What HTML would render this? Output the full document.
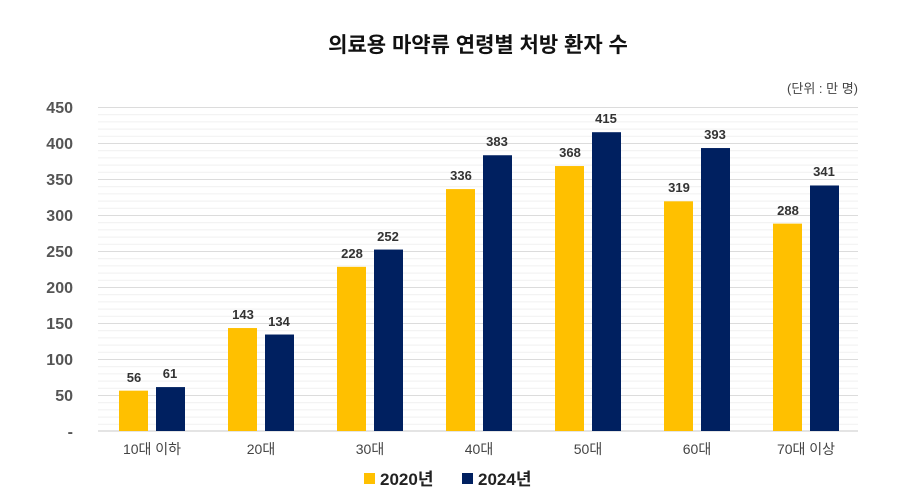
<!DOCTYPE html>
<html><head><meta charset="utf-8"><style>
body{margin:0;background:#fff;}
svg{display:block;font-family:"Liberation Sans","Noto Sans CJK KR",sans-serif;}
</style></head><body>
<svg width="900" height="502" xmlns="http://www.w3.org/2000/svg">
<defs>
<pattern id="mg" x="98" y="107" width="760" height="7.2" patternUnits="userSpaceOnUse">
<line x1="0" x2="760" y1="0.5" y2="0.5" stroke="#f0f0f0" stroke-width="1"/>
</pattern>
</defs>
<text x="478" y="52" text-anchor="middle" font-size="21" font-weight="bold" fill="#111">의료용 마약류 연령별 처방 환자 수</text>
<text x="858" y="93" text-anchor="end" font-size="13" fill="#444">(단위 : 만 명)</text>
<rect x="98" y="107" width="760" height="324" fill="url(#mg)"/>
<g stroke="#dcdcdc" stroke-width="1">
<line x1="98" x2="858" y1="107.5" y2="107.5"/><line x1="98" x2="858" y1="143.5" y2="143.5"/>
<line x1="98" x2="858" y1="179.5" y2="179.5"/><line x1="98" x2="858" y1="215.5" y2="215.5"/>
<line x1="98" x2="858" y1="251.5" y2="251.5"/><line x1="98" x2="858" y1="287.5" y2="287.5"/>
<line x1="98" x2="858" y1="323.5" y2="323.5"/><line x1="98" x2="858" y1="359.5" y2="359.5"/>
<line x1="98" x2="858" y1="395.5" y2="395.5"/><line x1="98" x2="858" y1="431" y2="431" stroke="#c8c8c8"/>
</g>
<g font-size="16" font-weight="bold" fill="#555" text-anchor="end">
<text x="73" y="113">450</text><text x="73" y="149">400</text><text x="73" y="185">350</text>
<text x="73" y="221">300</text><text x="73" y="257">250</text><text x="73" y="293">200</text>
<text x="73" y="329">150</text><text x="73" y="365">100</text><text x="73" y="401">50</text>
<text x="73" y="437">-</text>
</g>
<g fill="#FFC000">
<rect x="119" y="390.68" width="29" height="40.32"/>
<rect x="228" y="328.04" width="29" height="102.96"/>
<rect x="337" y="266.84" width="29" height="164.16"/>
<rect x="446" y="189.08" width="29" height="241.92"/>
<rect x="555" y="166.04" width="29" height="264.96"/>
<rect x="664" y="201.32" width="29" height="229.68"/>
<rect x="773" y="223.64" width="29" height="207.36"/>
</g>
<g fill="#002060">
<rect x="156" y="387.08" width="29" height="43.92"/>
<rect x="265" y="334.52" width="29" height="96.48"/>
<rect x="374" y="249.56" width="29" height="181.44"/>
<rect x="483" y="155.24" width="29" height="275.76"/>
<rect x="592" y="132.2" width="29" height="298.8"/>
<rect x="701" y="148.04" width="29" height="282.96"/>
<rect x="810" y="185.48" width="29" height="245.52"/>
</g>
<g font-size="13" font-weight="bold" fill="#333" text-anchor="middle">
<text x="134" y="382">56</text><text x="243" y="319">143</text><text x="352" y="258">228</text>
<text x="461" y="180">336</text><text x="570" y="157">368</text><text x="679" y="192">319</text><text x="788" y="215">288</text>
<text x="170" y="378">61</text><text x="279" y="326">134</text><text x="388" y="241">252</text>
<text x="497" y="146">383</text><text x="606" y="123">415</text><text x="715" y="139">393</text><text x="824" y="176">341</text>
</g>
<g font-size="14" fill="#444" text-anchor="middle">
<text x="152" y="454">10대 이하</text><text x="261" y="454">20대</text><text x="370" y="454">30대</text><text x="479" y="454">40대</text><text x="588" y="454">50대</text><text x="697" y="454">60대</text><text x="806" y="454">70대 이상</text>
</g>
<rect x="364" y="473" width="11" height="11" fill="#FFC000"/>
<text x="380" y="485" font-size="17" font-weight="bold" fill="#222">2020년</text>
<rect x="462" y="473" width="11" height="11" fill="#002060"/>
<text x="478" y="485" font-size="17" font-weight="bold" fill="#222">2024년</text>
</svg>
</body></html>
